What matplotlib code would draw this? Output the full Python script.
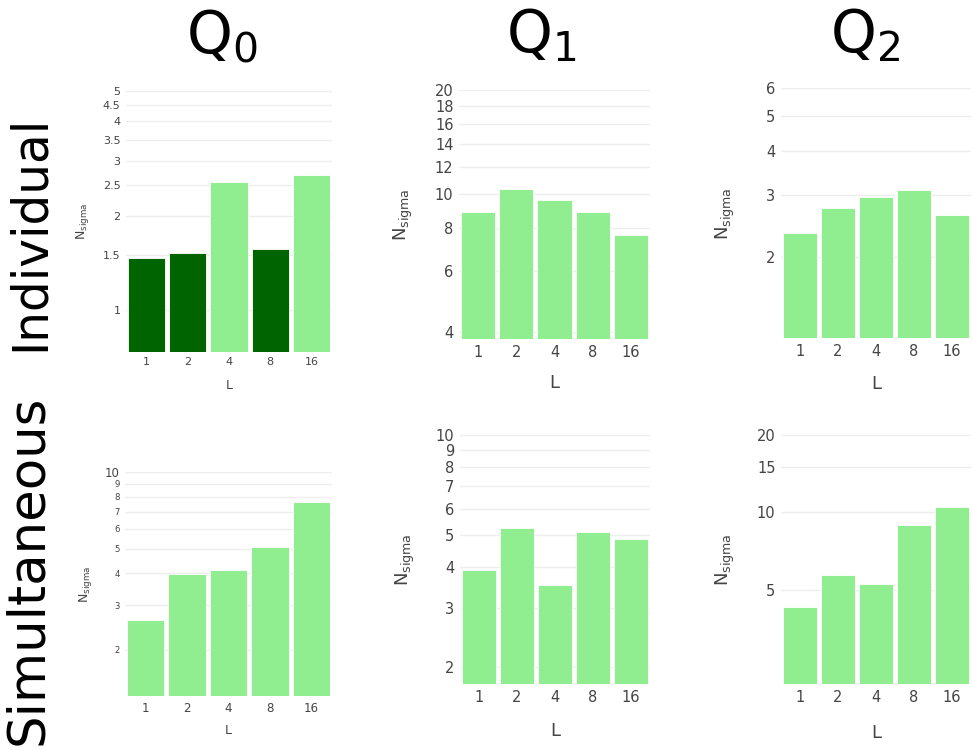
import numpy as np
import matplotlib
matplotlib.use("Agg")
import matplotlib.pyplot as plt
from matplotlib.ticker import FixedLocator, NullLocator

# datos (N_sigma por L)
L = ['1', '2', '4', '8', '16']
q0_ind = [1.47, 1.52, 2.56, 1.56, 2.69]
q1_ind = [8.87, 10.38, 9.61, 8.91, 7.63]
q2_ind = [2.34, 2.75, 2.95, 3.09, 2.63]
q0_sim = [2.62, 3.98, 4.13, 5.09, 7.62]
q1_sim = [3.92, 5.23, 3.53, 5.11, 4.86]
q2_sim = [4.31, 5.70, 5.27, 8.97, 10.50]

umbral = 2.0  # por debajo: verde oscuro

ticks_q0_ind = [1, 1.5, 2, 2.5, 3, 3.5, 4, 4.5, 5]
ticks_q1_ind = [4, 6, 8, 10, 12, 14, 16, 18, 20]
ticks_q2_ind = [2, 3, 4, 5, 6]
ticks_q0_sim = [2, 3, 4, 5, 6, 7, 8, 9, 10]
ticks_q1_sim = [2, 3, 4, 5, 6, 7, 8, 9, 10]
ticks_q2_sim = [5, 10, 15, 20]

W, H = 973, 750
fig = plt.figure(figsize=(W / 100, H / 100), dpi=100)
fig.patch.set_facecolor('white')

OSCURO = '#006400'
CLARO = '#90EE90'
GRIS = '#444444'


def panel(caja, valores, ticks, ylim, fs_tick, fs_lab, ylab_x, xlab_y, small_minor=False):
    izq, arr, der, aba = caja
    ax = fig.add_axes([izq / W, 1 - aba / H, (der - izq) / W, (aba - arr) / H])
    x = np.arange(len(L))
    colores = [OSCURO if v < umbral else CLARO for v in valores]
    ax.bar(x, valores, width=0.9, color=colores, edgecolor='white', linewidth=0.6, zorder=2)
    ax.set_yscale('log')
    ax.set_ylim(*ylim)
    ax.set_xlim(-0.5, len(L) - 0.5)
    ax.yaxis.set_major_locator(FixedLocator(ticks))
    ax.yaxis.set_minor_locator(NullLocator())
    ax.set_yticklabels([('%g' % t) for t in ticks])
    ax.set_xticks(x)
    ax.set_xticklabels(L)
    ax.tick_params(length=0, labelsize=fs_tick, labelcolor=GRIS, pad=4)
    if small_minor:
        for t, lab in zip(ticks, ax.get_yticklabels()):
            if t != 10:
                lab.set_fontsize(fs_tick * 0.72)
    ax.grid(axis='y', color='#eeeeee', linewidth=1, zorder=0)
    for s in ax.spines.values():
        s.set_visible(False)
    ax.set_ylabel(r'$\mathregular{N_{sigma}}$', fontsize=fs_lab, color=GRIS)
    ax.yaxis.set_label_coords(ylab_x, 0.5)
    ax.set_xlabel('L', fontsize=fs_lab, color=GRIS, va='top')
    ax.xaxis.set_label_coords(0.5, xlab_y)
    return ax


panel((126, 91, 332, 351.7), q0_ind, ticks_q0_ind, (0.736, 5), 8, 9, -0.17, -0.105)
panel((459, 90, 650, 339.3), q1_ind, ticks_q1_ind, (3.82, 20), 10.5, 13, -0.23, -0.14)
panel((781, 88.3, 971, 338.3), q2_ind, ticks_q2_ind, (1.18, 6), 10.5, 13, -0.23, -0.145)
panel((125, 472.3, 332, 696), q0_sim, ticks_q0_sim, (1.318, 10), 8.5, 9, -0.15, -0.125, small_minor=True)
panel((460, 435, 650, 684.3), q1_sim, ticks_q1_sim, (1.77, 10), 10.5, 13, -0.225, -0.15)
panel((781, 435, 971, 684.3), q2_sim, ticks_q2_sim, (2.15, 20), 10.5, 13, -0.23, -0.16)

# titulos de columna y fila
for xc, q in zip([222, 541, 865], ['0', '1', '2']):
    fig.text(xc / W, 1 - 36 / H, r'$\mathregular{Q_%s}$' % q, fontsize=42,
             ha='center', va='center', color='black')
fig.text(30 / W, 1 - 233 / H, 'Individual', fontsize=35, rotation=90,
         ha='center', va='center', color='black')
fig.text(28 / W, 1 - 570 / H, 'Simultaneous', fontsize=37, rotation=90,
         ha='center', va='center', color='black')

fig.savefig('out.png', dpi=100, facecolor='white')
